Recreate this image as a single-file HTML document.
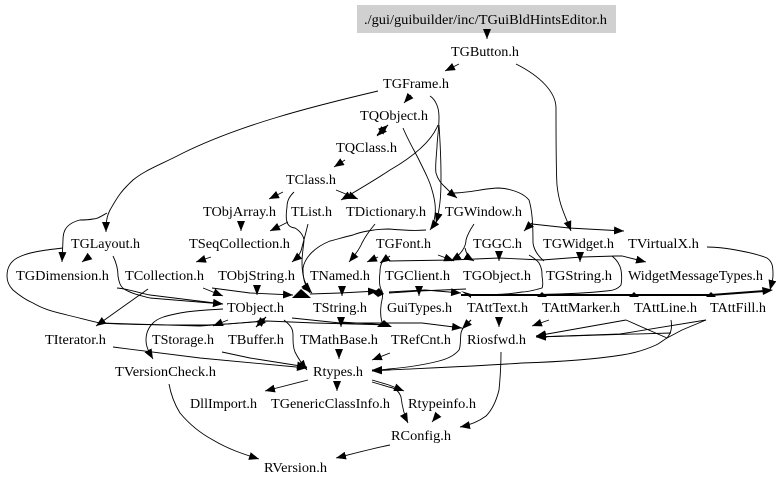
<!DOCTYPE html>
<html><head><meta charset="utf-8"><style>
html,body{margin:0;padding:0;background:#fff;width:779px;height:486px;overflow:hidden}
svg{display:block}
text{font-family:"Liberation Serif",serif;font-size:14px;fill:#000}
path{fill:none;stroke:#000;stroke-width:0.9}
.a{marker-end:url(#m)}
#mp{fill:#000;stroke:none}
polygon.c{fill:#000;stroke:none}
</style></head><body>
<svg width="779" height="486" viewBox="0 0 779 486" xmlns="http://www.w3.org/2000/svg">
<defs><marker id="m" markerUnits="userSpaceOnUse" markerWidth="12" markerHeight="10" refX="10" refY="4" orient="auto"><polygon id="mp" points="0,0 10,4 0,8"/></marker></defs>
<rect x="357" y="5" width="259" height="28" fill="#d0d0d0"/>
<g>
<path class="a" d="M487 31L487 39"/>
<path class="a" d="M459 64L445 71"/>
<path class="a" d="M516 64C540 76 556 92 556 108C556 130 556 170 557 185C559 205 565 215 571 231"/>
<path class="a" d="M411 95L404 103"/>
<path class="a" d="M378 91C310 107 240 125 183 153C160 165 145 170 133 180C120 192 117 198 110 210C108 214 106 218 106 232"/>
<path class="a" d="M438 125C432 140 416 155 390 170C375 180 358 190 341 200"/>
<path class="a" d="M336 190L358 199"/>
<path class="a" d="M430 96C436 100 439 108 439 117C439 130 437 140 437 147C436 160 435 168 436 173C438 180 441 183 444 186C448 190 452 194 457 198"/>
<path d="M452 193C470 193 485 188 499 188C515 189 525 195 529 200C532 210 533 222 533 243C534 250 538 256 544 261"/>
<path class="a" d="M532 223L524 231"/>
<path class="a" d="M532 224L569 228L624 231"/>
<path class="a" d="M403 128C408 140 414 150 419 160C425 172 430 182 432 190C435 200 436 208 435 215C434 222 433 226 430 230"/>
<path class="a" d="M439 125C440 140 441 160 441 177C441 190 441 205 436 223"/>
<path class="a" d="M426 230C415 231 400 230 389 229C375 229 360 232 353 235C340 238 335 240 330 241C315 247 305 257 303 268C303 277 304 282 306 285C308 288 310 291 312 293"/>
<path class="a" d="M388 125L377 136"/>
<path class="a" d="M377 135L388 125"/>
<path class="a" d="M345 160L334 167"/>
<path class="a" d="M283 192L269 199"/>
<path class="a" d="M294 192C290 196 287 200 287 207C286 214 286 219 287 222C288 226 292 228 295 228C300 231 304 236 304 241C303 250 302 255 302 262C302 272 303 278 306 284C307 287 308 290 310 293"/>
<path class="a" d="M308 224C306 232 304 240 302 247C301 253 298 257 292 262"/>
<path class="a" d="M288 222L270 231"/>
<path class="a" d="M241 223L241 231"/>
<path class="a" d="M211 257L196 262"/>
<path class="a" d="M90 256L82 262"/>
<path d="M107 213C100 217 97 219 93 219C88 220 84 220 80 220C72 222 67 226 65 230C63 234 63 237 63 240"/>
<path class="a" d="M63 240L62 262"/>
<path class="a" d="M113 256C116 262 118 268 118 276C119 282 120 286 124 289C132 294 142 296 150 298L223 304"/>
<path class="a" d="M117 288C130 289 142 294 150 295L223 304"/>
<path d="M63 248C45 250 28 252 17 258C10 262 7 268 7 276C7 282 10 287 13 290C20 296 26 300 33 303C45 310 55 312 67 315C80 318 90 321 100 323C130 325 170 325 200 325C225 325 245 322 267 321"/>
<path class="a" d="M148 289L96 326"/>
<path class="a" d="M203 288L223 296"/>
<path class="a" d="M212 288L250 293L293 295"/>
<path class="a" d="M257 287L257 295"/>
<path class="a" d="M342 288L342 296"/>
<path class="a" d="M419 288L419 296"/>
<path class="a" d="M310 294L340 293L378 291"/>
<path d="M389 293L419 291L466 289"/>
<path class="a" d="M389 292L425 290L461 293"/>
<polygon class="c" points="292,298 301,289 311,298"/>
<polygon class="c" points="373,293 379,288 384,294 378,297"/>
<path style="stroke-width:2" d="M461 295L542 295L634 295L711 295L765 291"/>
<polygon class="c" points="461,291 471,294 471,298"/>
<polygon class="c" points="537,297 547,297 542,292"/>
<polygon class="c" points="629,297 639,297 634,292"/>
<polygon class="c" points="706,297 716,297 711,292"/>
<polygon class="c" points="762,287 773,290 763,295"/>
<path class="a" d="M707 247C725 247 755 253 767 258C773 262 773 268 773 275C773 281 771 286 770 290"/>
<path class="a" d="M474 224C470 230 467 236 466 240C466 246 462 254 451 261"/>
<path class="a" d="M465 248C466 253 469 258 474 261"/>
<path class="a" d="M499 254L499 261"/>
<path class="a" d="M580 254L580 262"/>
<path class="a" d="M438 255L454 261"/>
<path class="a" d="M389 261L452 260L499 258L542 260L582 257L616 256L622 256L646 262"/>
<path class="a" d="M378 257L367 262"/>
<path class="a" d="M375 224C370 230 366 235 362 243C359 250 354 256 349 262"/>
<path class="a" d="M390 256L380 263"/>
<path d="M387 257C382 260 380 265 380 272C379 280 379 287 382 291C384 297 381 301 381 306C380 314 381 320 383 325"/>
<path d="M529 255C534 258 537 260 539 263C542 268 542 272 542 276C543 282 543 286 542 288C535 290 528 292 522 292C505 295 485 295 462 295"/>
<path d="M612 256C617 260 620 265 621 270C622 276 622 280 621 285C618 289 612 291 606 291C570 295 510 295 461 295"/>
<path class="a" d="M292 318L340 323L389 323L422 323L462 328"/>
<path d="M340 322L389 325"/>
<path d="M100 323L200 326L267 321L315 323L389 325"/>
<polygon class="c" points="377,327 384,320 392,327"/>
<path class="a" d="M341 319L341 327"/>
<path class="a" d="M228 320L213 326"/>
<path class="a" d="M266 317L256 327"/>
<path class="a" d="M256 327L266 317"/>
<path class="a" d="M284 320C290 325 293 328 293 335C293 342 293 347 295 352C298 358 302 364 307 370"/>
<path class="a" d="M223 309C205 310 190 311 180 313C165 316 158 318 153 323C148 328 146 334 146 340C146 347 149 352 153 359"/>
<path class="a" d="M113 347L200 358L307 368"/>
<path class="a" d="M222 352L250 358L307 367"/>
<path class="a" d="M339 351L339 359"/>
<path class="a" d="M390 353L372 360"/>
<path class="a" d="M471 320C466 324 462 328 461 333C460 340 461 346 459 350C454 356 447 359 439 361C420 366 400 368 389 369C382 370 378 370 372 370"/>
<path class="a" d="M671 320C672 326 672 332 667 338C662 341 660 343 656 345C645 350 635 353 622 355C590 360 555 362 522 363C480 366 430 368 389 370L372 371"/>
<path d="M667 338L682 330L706 320"/>
<path class="a" d="M706 320L620 334L536 337"/>
<path class="a" d="M671 333L600 335L536 337"/>
<path class="a" d="M626 320L536 336"/>
<path d="M626 320L667 338"/>
<path class="a" d="M549 320L532 326"/>
<path class="a" d="M499 320L499 327"/>
<path class="a" d="M471 320L462 329"/>
<path class="a" d="M308 380L265 391"/>
<path class="a" d="M337 383L337 391"/>
<path class="a" d="M372 380L389 385L404 391"/>
<path class="a" d="M372 382L389 387C395 388 399 391 401 397C402 405 404 415 408 423"/>
<path class="a" d="M437 416L432 422"/>
<path class="a" d="M501 352C501 365 500 380 499 390C496 402 492 410 486 416C478 422 470 425 460 427"/>
<path class="a" d="M169 384C171 395 175 405 180 413C190 425 200 433 213 440C228 449 243 454 259 459"/>
<path class="a" d="M390 445C370 449 352 454 336 458"/>
</g>
<g>
<text x="364" y="24" textLength="243" lengthAdjust="spacingAndGlyphs">./gui/guibuilder/inc/TGuiBldHintsEditor.h</text>
<text x="451" y="56" textLength="68" lengthAdjust="spacingAndGlyphs">TGButton.h</text>
<text x="383" y="88" textLength="66" lengthAdjust="spacingAndGlyphs">TGFrame.h</text>
<text x="360" y="120" textLength="68" lengthAdjust="spacingAndGlyphs">TQObject.h</text>
<text x="336" y="152" textLength="61" lengthAdjust="spacingAndGlyphs">TQClass.h</text>
<text x="286" y="184" textLength="50" lengthAdjust="spacingAndGlyphs">TClass.h</text>
<text x="203" y="216" textLength="73" lengthAdjust="spacingAndGlyphs">TObjArray.h</text>
<text x="291" y="216" textLength="41" lengthAdjust="spacingAndGlyphs">TList.h</text>
<text x="346" y="216" textLength="80" lengthAdjust="spacingAndGlyphs">TDictionary.h</text>
<text x="445" y="216" textLength="77" lengthAdjust="spacingAndGlyphs">TGWindow.h</text>
<text x="71" y="248" textLength="69" lengthAdjust="spacingAndGlyphs">TGLayout.h</text>
<text x="189" y="248" textLength="101" lengthAdjust="spacingAndGlyphs">TSeqCollection.h</text>
<text x="376" y="248" textLength="55" lengthAdjust="spacingAndGlyphs">TGFont.h</text>
<text x="473" y="248" textLength="49" lengthAdjust="spacingAndGlyphs">TGGC.h</text>
<text x="543" y="248" textLength="71" lengthAdjust="spacingAndGlyphs">TGWidget.h</text>
<text x="628" y="248" textLength="71" lengthAdjust="spacingAndGlyphs">TVirtualX.h</text>
<text x="16" y="280" textLength="93" lengthAdjust="spacingAndGlyphs">TGDimension.h</text>
<text x="125" y="280" textLength="79" lengthAdjust="spacingAndGlyphs">TCollection.h</text>
<text x="218" y="280" textLength="77" lengthAdjust="spacingAndGlyphs">TObjString.h</text>
<text x="310" y="280" textLength="60" lengthAdjust="spacingAndGlyphs">TNamed.h</text>
<text x="385" y="280" textLength="65" lengthAdjust="spacingAndGlyphs">TGClient.h</text>
<text x="463" y="280" textLength="68" lengthAdjust="spacingAndGlyphs">TGObject.h</text>
<text x="546" y="280" textLength="66" lengthAdjust="spacingAndGlyphs">TGString.h</text>
<text x="628" y="280" textLength="135" lengthAdjust="spacingAndGlyphs">WidgetMessageTypes.h</text>
<text x="227" y="312" textLength="57" lengthAdjust="spacingAndGlyphs">TObject.h</text>
<text x="313" y="312" textLength="54" lengthAdjust="spacingAndGlyphs">TString.h</text>
<text x="387" y="312" textLength="65" lengthAdjust="spacingAndGlyphs">GuiTypes.h</text>
<text x="467" y="312" textLength="61" lengthAdjust="spacingAndGlyphs">TAttText.h</text>
<text x="542" y="312" textLength="78" lengthAdjust="spacingAndGlyphs">TAttMarker.h</text>
<text x="634" y="312" textLength="63" lengthAdjust="spacingAndGlyphs">TAttLine.h</text>
<text x="710" y="312" textLength="56" lengthAdjust="spacingAndGlyphs">TAttFill.h</text>
<text x="45" y="344" textLength="61" lengthAdjust="spacingAndGlyphs">TIterator.h</text>
<text x="152" y="344" textLength="62" lengthAdjust="spacingAndGlyphs">TStorage.h</text>
<text x="228" y="344" textLength="56" lengthAdjust="spacingAndGlyphs">TBuffer.h</text>
<text x="300" y="344" textLength="78" lengthAdjust="spacingAndGlyphs">TMathBase.h</text>
<text x="391" y="344" textLength="60" lengthAdjust="spacingAndGlyphs">TRefCnt.h</text>
<text x="467" y="344" textLength="59" lengthAdjust="spacingAndGlyphs">Riosfwd.h</text>
<text x="115" y="376" textLength="101" lengthAdjust="spacingAndGlyphs">TVersionCheck.h</text>
<text x="313" y="376" textLength="50" lengthAdjust="spacingAndGlyphs">Rtypes.h</text>
<text x="190" y="408" textLength="67" lengthAdjust="spacingAndGlyphs">DllImport.h</text>
<text x="271" y="408" textLength="119" lengthAdjust="spacingAndGlyphs">TGenericClassInfo.h</text>
<text x="408" y="408" textLength="68" lengthAdjust="spacingAndGlyphs">Rtypeinfo.h</text>
<text x="391" y="440" textLength="60" lengthAdjust="spacingAndGlyphs">RConfig.h</text>
<text x="264" y="472" textLength="63" lengthAdjust="spacingAndGlyphs">RVersion.h</text>
</g>
</svg>
</body></html>
